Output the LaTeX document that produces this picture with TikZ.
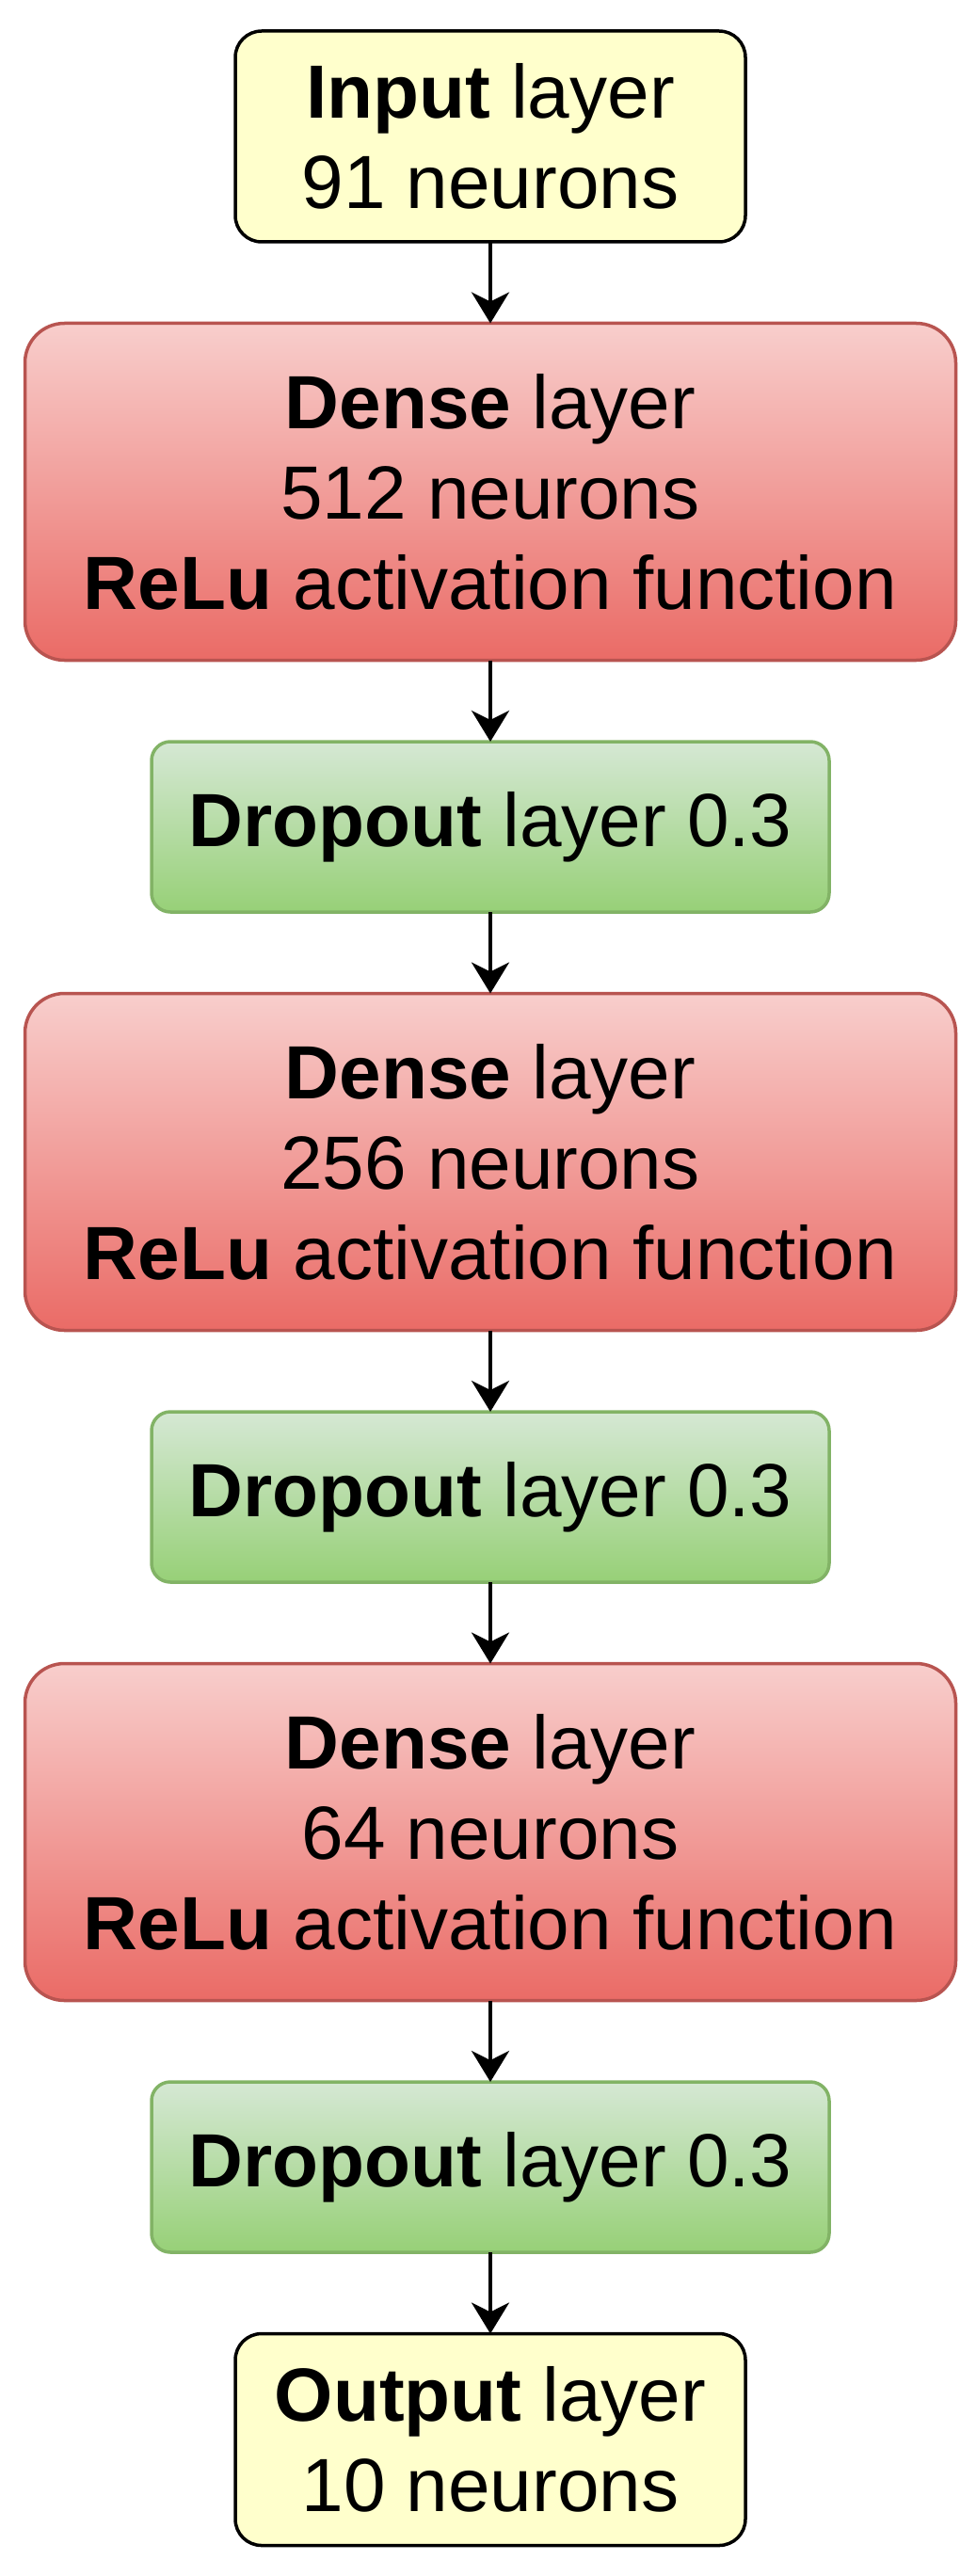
\documentclass[tikz,border=0pt]{standalone}
\usepackage{fontspec}
\setmainfont{Liberation Sans}
\usepackage{tikz}
\usetikzlibrary{arrows.meta}
\usetikzlibrary{positioning}

\definecolor{ioyellow}{HTML}{FFFFCC}
\definecolor{densetop}{HTML}{F8CECC}
\definecolor{densebot}{HTML}{EA6B66}
\definecolor{denseline}{HTML}{B85450}
\definecolor{droptop}{HTML}{D5E8D4}
\definecolor{dropbot}{HTML}{97D077}
\definecolor{dropline}{HTML}{82B366}

\begin{document}
\begin{tikzpicture}[node distance=0.865cm,
  every node/.style={outer sep=0pt, align=center, line width=0.035cm,
    font=\fontsize{22.8}{27.3}\selectfont},
  iolayer/.style={draw=black, fill=ioyellow, minimum width=5.42cm,
    rounded corners=0.28cm},
  denselayer/.style={draw=denseline, top color=densetop, bottom color=densebot,
    minimum width=9.89cm, minimum height=3.58cm, rounded corners=0.42cm},
  droplayer/.style={draw=dropline, top color=droptop, bottom color=dropbot,
    minimum width=7.20cm, minimum height=1.81cm, rounded corners=0.2cm},
  flow/.style={line width=0.04cm,
    -{Stealth[length=0.33cm, width=0.4cm, inset=0.1cm]}}]
  \useasboundingbox (0,0) rectangle (10.37,-27.37);
  \node[iolayer, minimum height=2.24cm] (input) at (5.21,-1.45)
    {\textbf{Input} layer\\91 neurons};
  \node[denselayer, below=of input] (dense1)
    {\textbf{Dense} layer\\512 neurons\\\textbf{ReLu} activation function};
  \node[droplayer, below=of dense1] (drop1) {\textbf{Dropout} layer 0.3};
  \node[denselayer, below=of drop1] (dense2)
    {\textbf{Dense} layer\\256 neurons\\\textbf{ReLu} activation function};
  \node[droplayer, below=of dense2] (drop2) {\textbf{Dropout} layer 0.3};
  \node[denselayer, below=of drop2] (dense3)
    {\textbf{Dense} layer\\64 neurons\\\textbf{ReLu} activation function};
  \node[droplayer, below=of dense3] (drop3) {\textbf{Dropout} layer 0.3};
  \node[iolayer, minimum height=2.25cm, below=of drop3] (output)
    {\textbf{Output} layer\\10 neurons};
  \foreach \from/\to in {input/dense1, dense1/drop1, drop1/dense2,
      dense2/drop2, drop2/dense3, dense3/drop3, drop3/output}
    \draw[flow] (\from) -- (\to);
\end{tikzpicture}
\end{document}
